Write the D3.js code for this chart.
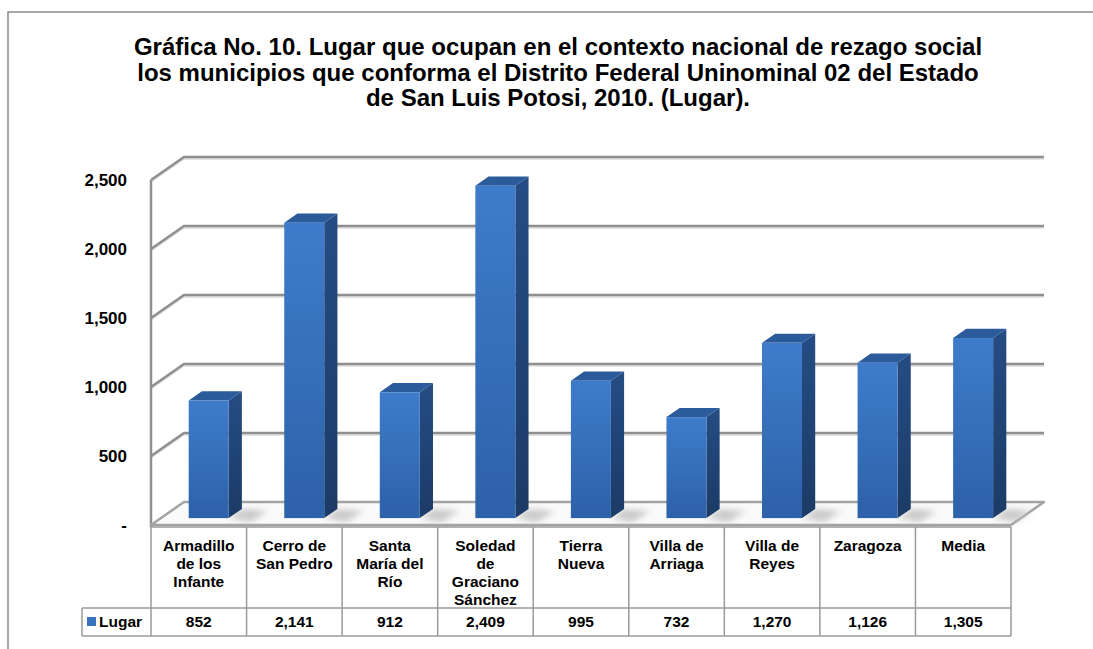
<!DOCTYPE html>
<html><head><meta charset="utf-8">
<script src="https://cdn.jsdelivr.net/npm/d3@7"></script>
<style>body{margin:0;background:#fff}svg{display:block;font-family:"Liberation Sans",Arial,sans-serif}</style>
</head><body><svg width="1093" height="649"></svg>
<script>
const titleLines=["Gráfica No. 10. Lugar que ocupan en el contexto nacional de rezago social","los municipios que conforma el Distrito Federal Uninominal 02 del Estado","de San Luis Potosi, 2010. (Lugar)."];
const categories=["Armadillo\nde los\nInfante","Cerro de\nSan Pedro","Santa\nMaría del\nRío","Soledad\nde\nGraciano\nSánchez","Tierra\nNueva","Villa de\nArriaga","Villa de\nReyes","Zaragoza","Media"];
const values=[852,2141,912,2409,995,732,1270,1126,1305];
const seriesName="Lugar";
const yTicks=[0,500,1000,1500,2000,2500];
const yTickLabels=["-","500","1,000","1,500","2,000","2,500"];
const valueLabels=["852","2,141","912","2,409","995","732","1,270","1,126","1,305"];

const svg=d3.select("svg");
const defs=svg.append("defs");
const fg=defs.append("linearGradient").attr("id","front").attr("x1",0).attr("x2",0).attr("y1",0).attr("y2",1);
fg.append("stop").attr("offset","0%").attr("stop-color","#3e7ccb");
fg.append("stop").attr("offset","100%").attr("stop-color","#2d61a9");
const sg=defs.append("linearGradient").attr("id","side").attr("x1",0).attr("x2",0).attr("y1",0).attr("y2",1);
sg.append("stop").attr("offset","0%").attr("stop-color","#254c84");
sg.append("stop").attr("offset","100%").attr("stop-color","#1c3b66");
const blur=defs.append("filter").attr("id","blur").attr("x","-50%").attr("y","-50%").attr("width","200%").attr("height","200%");
blur.append("feGaussianBlur").attr("stdDeviation",3);

// outer frame
svg.append("path").attr("d","M8,649 L8,12 L1093,12").attr("fill","none").attr("stroke","#8a8a8a").attr("stroke-width",1.5);

// title
svg.append("g").selectAll("text").data(titleLines).join("text")
  .attr("x",558).attr("y",(d,i)=>55+i*25.5).attr("text-anchor","middle")
  .attr("font-size",24).attr("font-weight","bold").attr("fill","#000").text(d=>d);

const x=d3.scaleBand().domain(categories).range([151,1011]);
const y=d3.scaleLinear().domain([0,2500]).range([525,180]);
const DX=33, DY=-23;

// gridlines (back wall + left wall diagonals)
const grid=svg.append("g");
yTicks.filter(t=>t>0).forEach(t=>{
  const yy=y(t);
  grid.append("path").attr("d",`M151,${yy+2} L${151+DX},${yy+DY+2} L${1011+DX},${yy+DY+2}`)
    .attr("fill","none").attr("stroke","#dcdcdc").attr("stroke-width",1.5);
  grid.append("path").attr("d",`M151,${yy} L${151+DX},${yy+DY} L${1011+DX},${yy+DY}`)
    .attr("fill","none").attr("stroke","#8f8f8f").attr("stroke-width",2.5);
});
// left axis
grid.append("line").attr("x1",151).attr("x2",151).attr("y1",y(2500)).attr("y2",y(0)+2)
  .attr("stroke","#8f8f8f").attr("stroke-width",2.5);

// floor
const y0=y(0);
svg.append("path").attr("d",`M151,${y0} L1011,${y0} L${1011+DX},${y0+DY} L${151+DX},${y0+DY} Z`)
  .attr("fill","#fafafa").attr("stroke","#a3a3a3").attr("stroke-width",2.5).attr("stroke-linejoin","round");

// y labels
svg.append("g").selectAll("text").data(yTicks).join("text")
  .attr("x",127).attr("y",(d)=>y(d)+6).attr("text-anchor","end")
  .attr("font-size",17).attr("font-weight","bold").text((d,i)=>yTickLabels[i]);

// bars
const bw=40, f0=0.3, fd=0.4;
const bars=svg.append("g");
categories.forEach((c,i)=>{
  const v=values[i];
  const xl=x(c)+x.bandwidth()/2-bw/2+f0*DX;
  const xr=xl+bw;
  const yb=y(0)+f0*DY;
  const yt=y(v)+f0*DY;
  const ddx=fd*DX, ddy=fd*DY;
  bars.append("path").attr("d",`M${xr},${yb} L${xr+ddx},${yb+ddy} L${xr+ddx+26},${yb+ddy+2} L${xr+22},${yb+4} Z`)
    .attr("fill","#bdbdbd").attr("filter","url(#blur)").attr("opacity",0.8);
  bars.append("path").attr("d",`M${xr},${yb} L${xr+ddx},${yb+ddy} L${xr+ddx},${yt+ddy} L${xr},${yt} Z`).attr("fill","url(#side)");
  bars.append("path").attr("d",`M${xl},${yt} L${xl+ddx},${yt+ddy} L${xr+ddx},${yt+ddy} L${xr},${yt} Z`).attr("fill","#2c5b9c");
  bars.append("rect").attr("x",xl).attr("y",yt).attr("width",bw).attr("height",yb-yt).attr("fill","url(#front)");
});

// data table
const tTop=527, tMid=608, tBot=636, legL=82;
const tbl=svg.append("g").attr("stroke","#9a9a9a").attr("stroke-width",1.5).attr("fill","none");
tbl.append("path").attr("d",`M151,${tTop} L1011,${tTop} M${legL},${tMid} L1011,${tMid} M${legL},${tBot} L1011,${tBot} M${legL},${tMid} L${legL},${tBot}`);
categories.forEach(c=>{
  tbl.append("line").attr("x1",x(c)).attr("x2",x(c)).attr("y1",tTop).attr("y2",tBot);
});
tbl.append("line").attr("x1",1011).attr("x2",1011).attr("y1",tTop).attr("y2",tBot);

const cat=svg.append("g");
categories.forEach((c,i)=>{
  const cx=x(c)+x.bandwidth()/2;
  c.split("\n").forEach((ln,j)=>{
    cat.append("text").attr("x",cx).attr("y",551+j*18).attr("text-anchor","middle")
      .attr("font-size",15.5).attr("font-weight","bold").text(ln);
  });
  cat.append("text").attr("x",cx).attr("y",627).attr("text-anchor","middle")
    .attr("font-size",15.5).attr("font-weight","bold").text(valueLabels[i]);
});
// legend
svg.append("rect").attr("x",87).attr("y",617).attr("width",9).attr("height",9).attr("fill","#3a73c0");
svg.append("text").attr("x",99).attr("y",627).attr("font-size",15.5).attr("font-weight","bold").text(seriesName);
</script></body></html>
